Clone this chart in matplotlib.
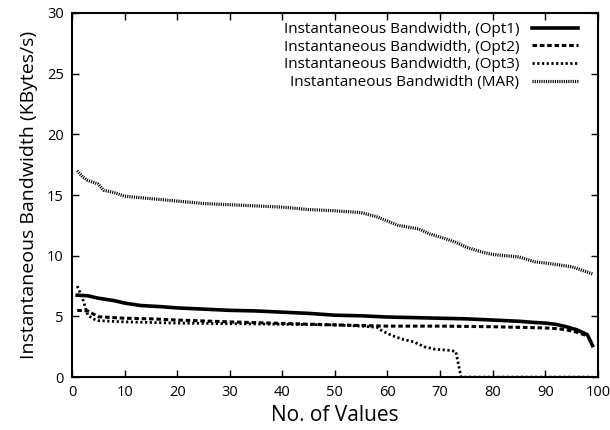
import matplotlib
matplotlib.use("Agg")
import matplotlib.pyplot as plt

plt.rcParams["font.family"] = ["Open Sans", "DejaVu Sans"]

opt1_x = [1, 3, 5, 8, 10, 13, 17, 20, 25, 30, 35, 40, 45, 50, 55, 60, 65, 70, 75, 80, 85, 88, 90, 92, 94, 96, 97, 98, 99]
opt1_y = [6.75, 6.7, 6.5, 6.3, 6.1, 5.9, 5.8, 5.7, 5.6, 5.5, 5.45, 5.35, 5.25, 5.1, 5.05, 4.95, 4.9, 4.85, 4.8, 4.7, 4.6, 4.5, 4.45, 4.35, 4.15, 3.9, 3.7, 3.5, 2.6]

opt2_x = [1, 3, 5, 8, 10, 15, 20, 30, 40, 50, 60, 70, 80, 90, 92, 94, 96, 98]
opt2_y = [5.5, 5.45, 4.97, 4.9, 4.85, 4.8, 4.7, 4.55, 4.42, 4.3, 4.2, 4.2, 4.15, 4.05, 4.0, 3.9, 3.7, 3.4]

opt3_x = [1, 2, 3, 4, 5, 10, 20, 30, 40, 50, 55, 58, 59, 61, 63, 65, 67, 69, 72, 73, 74, 75, 80, 90, 99]
opt3_y = [7.5, 6.5, 5.1, 4.8, 4.65, 4.55, 4.45, 4.4, 4.35, 4.3, 4.2, 4.1, 3.8, 3.4, 3.1, 2.9, 2.5, 2.3, 2.2, 2.1, 0, 0, 0, 0, 0]

mar_x = [1, 2, 3, 5, 6, 8, 10, 15, 20, 25, 30, 35, 40, 45, 50, 55, 58, 62, 66, 68, 71, 73, 75, 78, 80, 85, 88, 90, 95, 97, 99]
mar_y = [17.0, 16.5, 16.2, 15.9, 15.4, 15.2, 14.9, 14.7, 14.5, 14.3, 14.2, 14.1, 14.0, 13.8, 13.7, 13.55, 13.2, 12.5, 12.2, 11.8, 11.4, 11.1, 10.7, 10.3, 10.1, 9.9, 9.5, 9.4, 9.1, 8.8, 8.5]

fig = plt.figure(figsize=(6.1, 4.3), dpi=100)
ax = fig.add_axes([0.118, 0.123, 0.862, 0.847])

ax.plot(opt1_x, opt1_y, color="black", lw=2.6, label="Instantaneous Bandwidth, (Opt1)")
ax.plot(opt2_x, opt2_y, color="black", lw=2.2, dashes=(1.5, 0.9), label="Instantaneous Bandwidth, (Opt2)")
ax.plot(opt3_x, opt3_y, color="black", lw=2.0, dashes=(0.8, 0.9), label="Instantaneous Bandwidth, (Opt3)")
ax.plot(mar_x, mar_y, color="black", lw=2.3, dashes=(0.35, 0.35), label="Instantaneous Bandwidth (MAR)")

ax.set_xlim(0, 100)
ax.set_ylim(0, 30)
ax.set_xticks(range(0, 101, 10))
ax.set_yticks(range(0, 31, 5))
ax.tick_params(direction="in", length=5, width=1, top=True, right=True, labelsize=10.5, pad=6)
for s in ax.spines.values():
    s.set_linewidth(1.5)

ax.set_xlabel("No. of Values", fontsize=15, labelpad=3)
ax.set_ylabel("Instantaneous Bandwidth (KBytes/s)", fontsize=14, labelpad=6)

leg = ax.legend(loc="upper right", bbox_to_anchor=(0.98, 1.0), frameon=False,
                markerfirst=False, fontsize=11, handlelength=3.0, labelspacing=0.17,
                handletextpad=0.85, borderaxespad=0.2)
for col in leg._legend_handle_box.get_children():
    col.align = "right"

fig.savefig("out.png", dpi=100)
